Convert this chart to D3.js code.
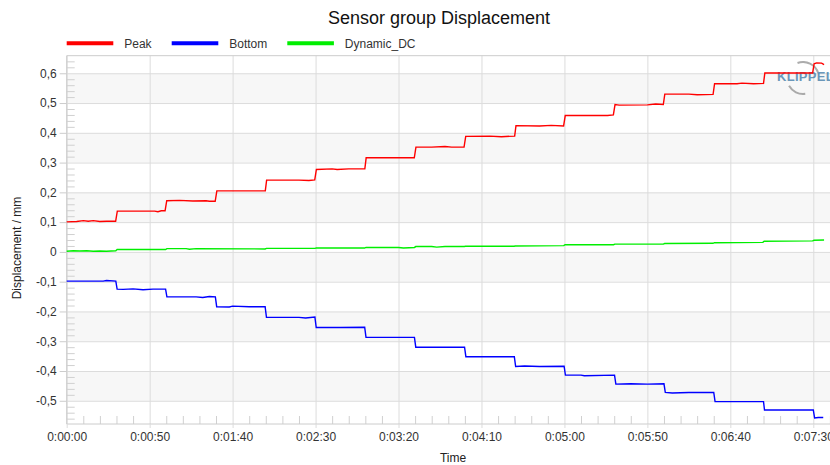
<!DOCTYPE html>
<html>
<head>
<meta charset="utf-8">
<script src="https://cdn.jsdelivr.net/npm/d3@7"></script>
<style>
  body { margin: 0; background: #fff; }
  svg { font-family: Arial, "Liberation Sans", sans-serif; display: block; }
  .tick text { fill: #333; font-size: 12px; }
</style>
</head>
<body>
<svg id="chart"></svg>
<script>
// Data: [time in s, displacement in mm]
const peak = [
  [0, 0.101], [6, 0.102], [10, 0.105], [13, 0.103], [16, 0.105], [20, 0.102], [24, 0.103], [29.5, 0.103],
  [30.5, 0.137], [44, 0.137], [53, 0.137], [55, 0.135], [57, 0.138], [59.3, 0.138],
  [60.3, 0.172], [68, 0.173], [76, 0.171], [84, 0.172], [86, 0.170], [89.5, 0.170],
  [90.5, 0.205], [119.7, 0.205],
  [120.5, 0.241], [140, 0.241], [146, 0.240], [149.5, 0.242],
  [150.5, 0.277], [160, 0.279], [163, 0.277], [170, 0.279], [179.7, 0.279],
  [180.5, 0.316], [209.5, 0.316],
  [210.5, 0.352], [220, 0.352], [228, 0.354], [232, 0.352], [239.5, 0.352],
  [240.5, 0.388], [255, 0.389], [262, 0.387], [270, 0.389],
  [270.8, 0.424], [285, 0.423], [292, 0.425], [299.5, 0.423],
  [300.5, 0.458], [326, 0.458], [329.5, 0.460],
  [330.5, 0.495], [333, 0.493], [350, 0.494], [355, 0.497], [359.6, 0.495],
  [360.5, 0.530], [375, 0.530], [380, 0.528], [389.6, 0.529],
  [390.5, 0.565], [404, 0.565], [407, 0.567], [414, 0.565], [420, 0.566],
  [420.8, 0.601], [449.6, 0.601],
  [450.5, 0.632], [452, 0.635], [455, 0.634], [456.5, 0.629]
];

const bottom = [
  [0, -0.098], [22, -0.098], [24, -0.096], [29.6, -0.098],
  [30.4, -0.125], [34, -0.126], [40, -0.124], [46, -0.127], [52, -0.125], [59.6, -0.125],
  [60.4, -0.151], [78, -0.151], [82, -0.153], [86, -0.150], [89.6, -0.151],
  [90.4, -0.184], [98, -0.185], [100, -0.182], [110, -0.184], [119.6, -0.184],
  [120.4, -0.220], [140, -0.220], [144, -0.222], [149.6, -0.219],
  [150.4, -0.254], [165, -0.254], [179.6, -0.253],
  [180.4, -0.287], [209.6, -0.287],
  [210.4, -0.320], [239.8, -0.320],
  [240.6, -0.352], [269.8, -0.352],
  [270.6, -0.385], [276, -0.383], [285, -0.385], [299.8, -0.384],
  [300.6, -0.414], [310, -0.414], [312, -0.416], [330.2, -0.414],
  [331, -0.444], [340, -0.443], [350, -0.444], [360, -0.443],
  [360.8, -0.472], [365, -0.474], [375, -0.472], [390, -0.472],
  [390.8, -0.503], [405, -0.503], [420, -0.503],
  [420.6, -0.531], [450, -0.531],
  [450.8, -0.558], [453, -0.556], [456, -0.556]
];

const dynamicDC = [
  [0, 0.002], [4, 0.004], [8, 0.003], [12, 0.004], [16, 0.002], [20, 0.003], [24, 0.002], [29.6, 0.004],
  [30.4, 0.008], [59.6, 0.008],
  [60.4, 0.011], [72, 0.011], [74, 0.009], [78, 0.011], [119.6, 0.010],
  [120.4, 0.012], [149.6, 0.012],
  [150.4, 0.013], [179.6, 0.013],
  [180.4, 0.015], [200, 0.015], [203, 0.013], [209.6, 0.015],
  [210.4, 0.018], [220, 0.018], [223, 0.016], [228, 0.018], [239.6, 0.018],
  [240.4, 0.019], [269.6, 0.019],
  [270.4, 0.020], [299.6, 0.021],
  [300.4, 0.024], [329.6, 0.024],
  [330.4, 0.026], [359.6, 0.026],
  [360.4, 0.028], [389.6, 0.029],
  [390.4, 0.031], [419.6, 0.032],
  [420.4, 0.036], [449.6, 0.037],
  [450.4, 0.039], [456.5, 0.040]
];

const seriesNames = ["Peak", "Bottom", "Dynamic_DC"];
const seriesColors = ["#ff0000", "#0000ff", "#00ee00"];
const xMajorTicks = [0, 50, 100, 150, 200, 250, 300, 350, 400, 450];
const xMinorTicks = d3.range(0, 461, 10);
const yMajorTicks = [-0.5, -0.4, -0.3, -0.2, -0.1, 0, 0.1, 0.2, 0.3, 0.4, 0.5, 0.6];
const yMinorTicks = d3.range(-56, 66, 2).map(d => d / 100);

const width = 830, height = 465;
const plotLeft = 66.7, plotTop = 55.7, plotBottom = 424;

const svg = d3.select("#chart").attr("width", width).attr("height", height);

const x = d3.scaleLinear().domain([0, 462]).range([plotLeft, 833.2]);
const y = d3.scaleLinear().domain([-0.578, 0.659]).range([plotBottom, plotTop]);

const pad = n => String(n).padStart(2, "0");
const timeFmt = s => `${Math.floor(s / 3600)}:${pad(Math.floor(s % 3600 / 60))}:${pad(s % 60)}`;
const numFmt = d => Math.abs(d) < 1e-9 ? "0" : d.toFixed(1).replace(".", ",");

// Alternating bands
svg.append("g").selectAll("rect")
  .data(yMajorTicks.filter(v => Math.abs(Math.round(v * 10)) % 2 === 1))
  .join("rect")
  .attr("x", plotLeft)
  .attr("width", width - plotLeft)
  .attr("y", d => y(d + 0.1))
  .attr("height", d => y(d) - y(d + 0.1))
  .attr("fill", "#f7f7f7");

// Grid
svg.append("g")
  .attr("transform", `translate(0,${plotBottom})`)
  .call(d3.axisBottom(x).tickValues(xMajorTicks).tickSize(-(plotBottom - plotTop)).tickFormat(""))
  .call(g => g.select(".domain").remove())
  .selectAll("line").attr("stroke", "#dcdcdc");

svg.append("g")
  .attr("transform", `translate(${plotLeft},0)`)
  .call(d3.axisLeft(y).tickValues(yMajorTicks).tickSize(-(width - plotLeft)).tickFormat(""))
  .call(g => g.select(".domain").remove())
  .selectAll("line").attr("stroke", "#dcdcdc");

// Minor ticks
svg.append("g")
  .attr("transform", `translate(0,${plotBottom})`)
  .call(d3.axisBottom(x).tickValues(xMinorTicks.filter(d => d % 50 !== 0)).tickSize(-8).tickFormat(""))
  .call(g => g.select(".domain").remove())
  .selectAll("line").attr("stroke", "#d0d0d0");

svg.append("g")
  .attr("transform", `translate(${plotLeft},0)`)
  .call(d3.axisLeft(y).tickValues(yMinorTicks.filter(d => Math.round(d * 100) % 10 !== 0)).tickSize(-8).tickFormat(""))
  .call(g => g.select(".domain").remove())
  .selectAll("line").attr("stroke", "#d0d0d0");

// Axes with labels
svg.append("g")
  .attr("transform", `translate(0,${plotBottom})`)
  .call(d3.axisBottom(x).tickValues(xMajorTicks).tickSize(4).tickPadding(4).tickFormat(timeFmt))
  .call(g => g.select(".domain").attr("stroke", "#cccccc").attr("d", `M${plotLeft},0H${width}`))
  .call(g => g.selectAll(".tick line").attr("stroke", "#dcdcdc"));

svg.append("g")
  .attr("transform", `translate(${plotLeft},0)`)
  .call(d3.axisLeft(y).tickValues(yMajorTicks).tickSize(7).tickPadding(3).tickFormat(numFmt))
  .call(g => g.select(".domain").attr("stroke", "#cccccc").attr("d", `M0,${plotTop}V${plotBottom}`))
  .call(g => g.selectAll(".tick line").attr("stroke", "#cccccc"));

// Top border
svg.append("line")
  .attr("x1", plotLeft).attr("x2", width)
  .attr("y1", plotTop).attr("y2", plotTop)
  .attr("stroke", "#cccccc");

// Logo
const logo = svg.append("g").attr("opacity", 0.7);
const arc = d3.arc().innerRadius(15).outerRadius(17);
logo.append("path")
  .attr("transform", "translate(803,78)")
  .attr("d", arc({ startAngle: -0.35, endAngle: 1.25 }))
  .attr("fill", "#8a8a8a");
logo.append("path")
  .attr("transform", "translate(803,78)")
  .attr("d", arc({ startAngle: 3.0, endAngle: 4.2 }))
  .attr("fill", "#8a8a8a");
logo.append("text")
  .attr("x", 777).attr("y", 81)
  .attr("font-size", 13).attr("font-weight", "bold")
  .attr("fill", "#2f6f9f")
  .attr("letter-spacing", 0.3)
  .text("KLIPPEL");

// Series
const line = d3.line().x(d => x(d[0])).y(d => y(d[1]));
[peak, bottom, dynamicDC].forEach((data, i) => {
  svg.append("path")
    .datum(data)
    .attr("fill", "none")
    .attr("stroke", seriesColors[i])
    .attr("stroke-width", 1.4)
    .attr("d", line);
});

// Title
svg.append("text")
  .attr("x", 439).attr("y", 24)
  .attr("text-anchor", "middle")
  .attr("font-size", 18)
  .attr("fill", "#111")
  .text("Sensor group Displacement");

// Legend
const legendX = [66.7, 171.7, 287.3];
const legend = svg.append("g").selectAll("g")
  .data(seriesNames)
  .join("g")
  .attr("transform", (d, i) => `translate(${legendX[i]},43.3)`);
legend.append("line")
  .attr("x1", 0).attr("x2", 46.6)
  .attr("stroke", (d, i) => seriesColors[i])
  .attr("stroke-width", 4);
legend.append("text")
  .attr("x", 57.5).attr("y", 4.3)
  .attr("font-size", 12)
  .attr("fill", "#333")
  .text(d => d);

// Axis titles
svg.append("text")
  .attr("transform", "translate(21,248) rotate(-90)")
  .attr("text-anchor", "middle")
  .attr("font-size", 12)
  .attr("fill", "#222")
  .text("Displacement / mm");

svg.append("text")
  .attr("x", 453).attr("y", 462)
  .attr("text-anchor", "middle")
  .attr("font-size", 12)
  .attr("fill", "#222")
  .text("Time");
</script>
</body>
</html>
